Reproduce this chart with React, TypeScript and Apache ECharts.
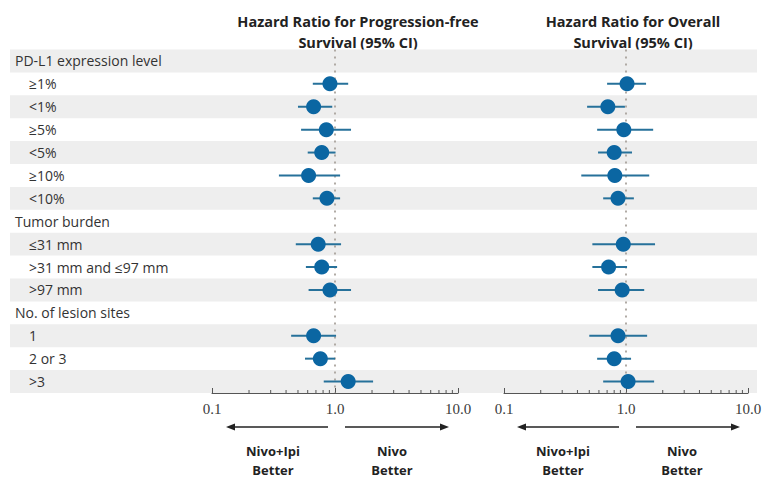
import React, { useEffect, useRef } from 'react';
import * as echarts from 'echarts';

const rowLabels = [
  'PD-L1 expression level', '≥1%', '<1%', '≥5%', '<5%', '≥10%', '<10%',
  'Tumor burden', '≤31 mm', '>31 mm and ≤97 mm', '>97 mm',
  'No. of lesion sites', '1', '2 or 3', '>3',
];
const headerLabels = ['PD-L1 expression level', 'Tumor burden', 'No. of lesion sites'];

const pfsHR = [null, 0.91, 0.67, 0.85, 0.78, 0.61, 0.86, null, 0.73, 0.78, 0.91, null, 0.67, 0.76, 1.28];
const pfsLow = [null, 0.66, 0.50, 0.53, 0.60, 0.35, 0.66, null, 0.48, 0.58, 0.61, null, 0.44, 0.57, 0.81];
const pfsHigh = [null, 1.28, 0.95, 1.35, 1.01, 1.10, 1.10, null, 1.12, 1.04, 1.35, null, 1.02, 1.00, 2.04];

const osHR = [null, 1.02, 0.71, 0.96, 0.80, 0.81, 0.86, null, 0.95, 0.72, 0.93, null, 0.86, 0.80, 1.04];
const osLow = [null, 0.70, 0.48, 0.58, 0.59, 0.43, 0.65, null, 0.53, 0.53, 0.59, null, 0.50, 0.58, 0.65];
const osHigh = [null, 1.46, 0.98, 1.67, 1.12, 1.55, 1.16, null, 1.73, 1.02, 1.41, null, 1.49, 1.10, 1.70];

const tickLabels = ['0.1', '1.0', '10.0'];
const minorTickValues = [0.2, 0.3, 0.4, 0.5, 0.6, 0.7, 0.8, 0.9, 2, 3, 4, 5, 6, 7, 8, 9];
const referenceValue = [1];

const panelTitles = ['Hazard Ratio for Progression-free\nSurvival (95% CI)', 'Hazard Ratio for Overall\nSurvival (95% CI)'];
const leftFavor = 'Nivo+Ipi\nBetter';
const rightFavor = 'Nivo\nBetter';

const FONT = '"Open Sans", "DejaVu Sans", sans-serif';
const DOT = '#0b66a2';
const CI = '#26719a';

const GRID_TOP = 49.5;
const GRID_H = 343.5;

function panelSeries(idx: number, hr: (number | null)[], lo: (number | null)[], hi: (number | null)[]) {
  const ciData: any[] = [];
  const dotData: any[] = [];
  rowLabels.forEach((_, i) => {
    if (hr[i] != null) {
      ciData.push([i, lo[i], hi[i]]);
      dotData.push([hr[i], i]);
    }
  });
  return [
    {
      type: 'custom',
      xAxisIndex: idx,
      yAxisIndex: idx,
      z: 2,
      silent: true,
      data: referenceValue.map((v) => [v, 0]),
      encode: { x: 0, y: 1 },
      renderItem: (params: any, api: any) => {
        const x = api.coord([api.value(0), 0])[0];
        const cs = params.coordSys;
        return {
          type: 'line',
          shape: { x1: x, y1: cs.y, x2: x, y2: cs.y + cs.height },
          style: { stroke: '#a8a29c', lineWidth: 1.8, lineDash: [2, 5] },
        };
      },
    },
    {
      type: 'custom',
      xAxisIndex: idx,
      yAxisIndex: idx,
      z: 2,
      silent: true,
      clip: false,
      data: minorTickValues.map((v) => [v, 0]),
      encode: { x: 0, y: 1 },
      renderItem: (params: any, api: any) => {
        const x = api.coord([api.value(0), 0])[0];
        const cs = params.coordSys;
        const b = cs.y + cs.height;
        return {
          type: 'line',
          shape: { x1: x, y1: b, x2: x, y2: b - 3 },
          style: { stroke: '#555', lineWidth: 1 },
        };
      },
    },
    {
      type: 'custom',
      xAxisIndex: idx,
      yAxisIndex: idx,
      z: 3,
      data: ciData,
      encode: { x: [1, 2], y: 0 },
      renderItem: (params: any, api: any) => {
        const a = api.coord([api.value(1), api.value(0)]);
        const b = api.coord([api.value(2), api.value(0)]);
        return {
          type: 'line',
          shape: { x1: a[0], y1: a[1], x2: b[0], y2: b[1] },
          style: { stroke: CI, lineWidth: 2 },
        };
      },
    },
    {
      type: 'scatter',
      xAxisIndex: idx,
      yAxisIndex: idx,
      z: 4,
      data: dotData,
      symbolSize: 15,
      itemStyle: { color: DOT, opacity: 1 },
    },
  ];
}

function logAxis(idx: number) {
  return {
    type: 'log',
    logBase: 10,
    gridIndex: idx,
    min: 0.1,
    max: 10,
    axisLine: { show: true, lineStyle: { color: '#555', width: 1 } },
    axisTick: { show: true, inside: true, length: 5, lineStyle: { color: '#555' } },
    splitLine: { show: false },
    axisLabel: {
      margin: 8,
      fontFamily: '"Liberation Serif", "DejaVu Serif", serif',
      fontSize: 15,
      color: '#3a3a3a',
      formatter: (v: number) => tickLabels[Math.round(Math.log10(v)) + 1],
    },
  };
}

function catAxis(idx: number) {
  return {
    type: 'category',
    gridIndex: idx,
    data: rowLabels,
    inverse: true,
    show: false,
  };
}

function arrow(x1: number, x2: number, y: number) {
  const dir = x2 > x1 ? 1 : -1;
  return [
    { type: 'line', shape: { x1, y1: y, x2: x2 - dir * 6, y2: y }, style: { stroke: '#222', lineWidth: 1.3 } },
    {
      type: 'polygon',
      shape: { points: [[x2, y], [x2 - dir * 9, y - 3.5], [x2 - dir * 9, y + 3.5]] },
      style: { fill: '#222' },
    },
  ];
}

function label(text: string, x: number, y: number) {
  return {
    type: 'text',
    style: {
      text,
      x,
      y,
      align: 'center',
      verticalAlign: 'middle',
      font: `bold 13px ${FONT}`,
      fill: '#222',
      lineHeight: 19,
    },
  };
}

export default function App() {
  const ref = useRef<HTMLDivElement>(null);
  useEffect(() => {
    if (!ref.current) return;
    const chart = echarts.init(ref.current, null, { renderer: 'svg' });
    const option: any = {
      animation: false,
      backgroundColor: '#ffffff',
      grid: [
        { left: 10, right: 5, top: GRID_TOP, height: GRID_H, outerBoundsMode: 'none' },
        { left: 212, width: 246, top: GRID_TOP, height: GRID_H, outerBoundsMode: 'none' },
        { left: 504, width: 244, top: GRID_TOP, height: GRID_H, outerBoundsMode: 'none' },
      ],
      xAxis: [
        { type: 'value', gridIndex: 0, show: false, min: 0, max: 1 },
        logAxis(1),
        logAxis(2),
      ],
      yAxis: [
        {
          type: 'category',
          gridIndex: 0,
          data: rowLabels,
          inverse: true,
          axisLine: { show: false },
          axisTick: { show: false, interval: 0 },
          splitLine: { show: false },
          splitArea: {
            show: true,
            interval: 0,
            areaStyle: { color: ['#eeeeee', 'rgba(255,255,255,0)'] },
          },
          axisLabel: {
            inside: true,
            interval: 0,
            margin: 5,
            formatter: (v: string) => (headerLabels.includes(v) ? `{h|${v}}` : `{i|${v}}`),
            rich: {
              h: { fontFamily: FONT, fontSize: 14, color: '#333' },
              i: { fontFamily: FONT, fontSize: 14, color: '#333', padding: [0, 0, 0, 14] },
            },
          },
        },
        catAxis(1),
        catAxis(2),
      ],
      series: [
        ...panelSeries(1, pfsHR, pfsLow, pfsHigh),
        ...panelSeries(2, osHR, osLow, osHigh),
      ],
      graphic: [
        {
          type: 'text',
          style: {
            text: panelTitles[0], x: 358, y: 32, align: 'center', verticalAlign: 'middle',
            font: `bold 14.5px ${FONT}`, fill: '#222', lineHeight: 21,
          },
        },
        {
          type: 'text',
          style: {
            text: panelTitles[1], x: 633, y: 32, align: 'center', verticalAlign: 'middle',
            font: `bold 14.5px ${FONT}`, fill: '#222', lineHeight: 21,
          },
        },
        ...arrow(328, 226, 427),
        ...arrow(345, 449, 427),
        ...arrow(619, 517, 427),
        ...arrow(636, 740, 427),
        label(leftFavor, 273, 460),
        label(rightFavor, 392, 460),
        label(leftFavor, 563, 460),
        label(rightFavor, 682, 460),
      ],
    };
    chart.setOption(option);
    return () => chart.dispose();
  }, []);
  return (
    <div
      ref={ref}
      style={{ position: 'fixed', left: 0, top: 0, width: 762, height: 479, background: '#fff' }}
    />
  );
}
